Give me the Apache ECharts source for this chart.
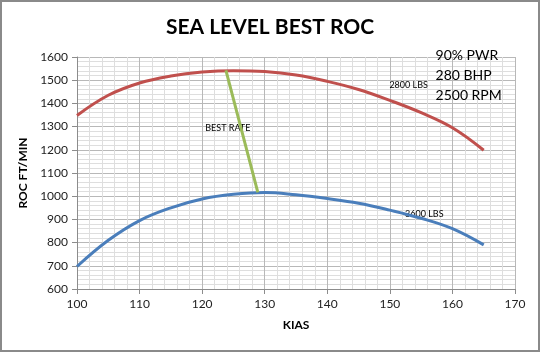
<!DOCTYPE html>
<html><head><meta charset="utf-8">
<script src="https://cdn.jsdelivr.net/npm/echarts@6/dist/echarts.min.js"></script>
<style>html,body{margin:0;padding:0;background:#fff}#c{width:540px;height:352px;box-sizing:border-box;border:2px solid #8a8a8a}</style>
</head><body><div id="c"></div>
<script>
const kias = [100,105,110,115,120,125,130,135,140,145,150,155,160,165];
const roc2800 = [1348,1435,1488,1518,1535,1541,1537,1522,1495,1460,1413,1360,1295,1198];
const roc3600 = [697,810,895,950,988,1008,1016,1006,990,970,940,905,860,790];
const bestRateX = [123.8,128.9];
const bestRateY = [1542,1016];
const xTicks = {min:100,max:170,interval:10};
const yTicks = {min:600,max:1600,interval:100};
const notes = ['90% PWR','280 BHP','2500 RPM'];

const font = 'Lato, "Liberation Sans", sans-serif';
const chart = echarts.init(document.getElementById('c'));
const pair = (xs, ys) => xs.map((x,i)=>[x, ys[i]]);
chart.setOption({
  animation:false,
  title:{text:'SEA LEVEL BEST ROC',left:'center',top:10,textStyle:{fontFamily:font,fontWeight:'bold',fontSize:21,color:'#000'}},
  grid:{left:75,right:23,top:55,bottom:61},
  xAxis:{type:'value',min:xTicks.min,max:xTicks.max,interval:xTicks.interval,
    name:'KIAS',nameLocation:'middle',nameGap:30,nameTextStyle:{fontFamily:font,fontWeight:'bold',fontSize:12,color:'#000'},
    axisLine:{show:true,lineStyle:{color:'#8c8c8c'}},axisTick:{show:true,length:5,lineStyle:{color:'#8c8c8c'}},
    axisLabel:{fontFamily:font,fontSize:12,color:'#222',margin:9,formatter:v=>String(v)},
    splitLine:{show:true,lineStyle:{color:'#b8b8b8'}},
    minorTick:{show:false,splitNumber:5},minorSplitLine:{show:true,lineStyle:{color:'#dedede'}}},
  yAxis:{type:'value',min:yTicks.min,max:yTicks.max,interval:yTicks.interval,
    name:'ROC FT/MIN',nameLocation:'middle',nameGap:47,nameTextStyle:{fontFamily:font,fontWeight:'bold',fontSize:12,color:'#000'},
    axisLine:{show:true,lineStyle:{color:'#8c8c8c'}},axisTick:{show:true,length:5,lineStyle:{color:'#8c8c8c'}},
    axisLabel:{fontFamily:font,fontSize:12,color:'#222',margin:9,formatter:v=>String(v)},
    splitLine:{show:true,lineStyle:{color:'#b8b8b8'}},
    minorTick:{show:false,splitNumber:5},minorSplitLine:{show:true,lineStyle:{color:'#dedede'}}},
  series:[
    {type:'line',data:pair(kias,roc2800),smooth:0.4,showSymbol:false,lineStyle:{color:'#c0504d',width:3}},
    {type:'line',data:pair(kias,roc3600),smooth:0.4,showSymbol:false,lineStyle:{color:'#4a7ebb',width:3}},
    {type:'line',data:pair(bestRateX,bestRateY),showSymbol:false,lineStyle:{color:'#9bbb59',width:3}}
  ]
});
function place(){
  const p = (x,y)=>chart.convertToPixel({gridIndex:0},[x,y]);
  const lbl = (pt,text,size,align)=>({type:'text',x:pt[0],y:pt[1],style:{text,fontFamily:font,fontSize:size,fill:'#000',align:align||'center',verticalAlign:'middle'}});
  const els = [
    lbl(p(153.0,1480),'2800 LBS',9),
    lbl(p(155.5,925),'3600 LBS',9),
    lbl(p(124.1,1295),'BEST RATE',9)
  ];
  notes.forEach((t,i)=>els.push(lbl(p(157.3,1607-i*86),t,14,'left')));
  chart.setOption({graphic:els});
}
place();
</script></body></html>
